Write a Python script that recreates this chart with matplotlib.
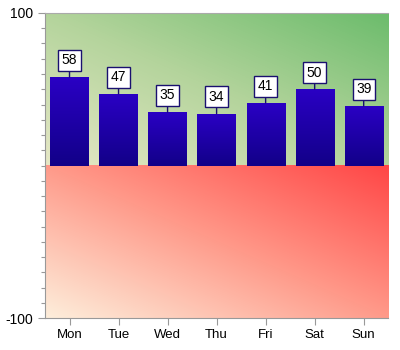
import numpy as np
import matplotlib
matplotlib.use('Agg')
import matplotlib.pyplot as plt
from matplotlib.colors import LinearSegmentedColormap
from matplotlib.ticker import MultipleLocator, FixedLocator

plt.rcParams['font.family'] = ['Liberation Sans', 'DejaVu Sans']

days = ['Mon', 'Tue', 'Wed', 'Thu', 'Fri', 'Sat', 'Sun']
values = [58, 47, 35, 34, 41, 50, 39]
y_min, y_max = -100, 100

DPI = 100
fig = plt.figure(figsize=(400 / DPI, 350 / DPI), dpi=DPI)
ax = fig.add_axes([0.1125, 0.091, 0.858, 0.872])

n = len(days)
x = np.arange(n)
xlo, xhi = -0.5, n - 0.5
ax.set_xlim(xlo, xhi)
ax.set_ylim(y_min, y_max)

# diagonal gradients for the two halves (light bottom-left -> dark top-right)
gx, gy = np.meshgrid(np.linspace(0, 1, 200), np.linspace(0, 1, 200))
diag = (gx + gy) / 2
green = LinearSegmentedColormap.from_list('g', ['#e6e8c6', '#b4d49c', '#6cbc6c'])
red = LinearSegmentedColormap.from_list('r', ['#fdeedb', '#ff9a8a', '#ff4646'])
ax.imshow(diag, cmap=green, origin='lower', aspect='auto',
          extent=[xlo, xhi, 0, y_max], zorder=0)
ax.imshow(diag, cmap=red, origin='lower', aspect='auto',
          extent=[xlo, xhi, y_min, 0], zorder=0)

# bars with vertical blue gradient
bar_cmap = LinearSegmentedColormap.from_list('b', ['#120088', '#2a00c4'])
w = 0.78
vgrad = np.linspace(0, 1, 100).reshape(-1, 1)
for xi, v in zip(x, values):
    ax.imshow(vgrad, cmap=bar_cmap, origin='lower', aspect='auto',
              extent=[xi - w / 2, xi + w / 2, 0, v], zorder=2)
    ax.annotate(str(v), xy=(xi, v), xytext=(0, 7), textcoords='offset points',
                ha='center', va='bottom', fontsize=10, color='black',
                bbox=dict(boxstyle='square,pad=0.25', fc='white', ec='#1a1070', lw=1.0),
                arrowprops=dict(arrowstyle='-', color='#1a1070', lw=1.0,
                                shrinkA=0, shrinkB=0),
                zorder=4)

ax.set_xlim(xlo, xhi)
ax.set_ylim(y_min, y_max)

ax.set_xticks(x)
ax.set_xticklabels(days, fontsize=9.5)
ax.yaxis.set_major_locator(FixedLocator([y_min, y_max]))
ax.yaxis.set_minor_locator(MultipleLocator(10))
ax.set_yticklabels([str(y_min), str(y_max)], fontsize=10)
ax.tick_params(axis='both', which='major', length=5, color='#999999', width=0.8)
ax.tick_params(axis='y', which='minor', length=3, color='#999999', width=0.8)
ax.tick_params(axis='x', pad=3)

ax.spines['right'].set_visible(False)
ax.spines['top'].set_color('#aaaaaa')
ax.spines['top'].set_linestyle((0, (1, 1)))
ax.spines['left'].set_color('#999999')
ax.spines['bottom'].set_color('#999999')

fig.savefig('out.png', dpi=DPI)
